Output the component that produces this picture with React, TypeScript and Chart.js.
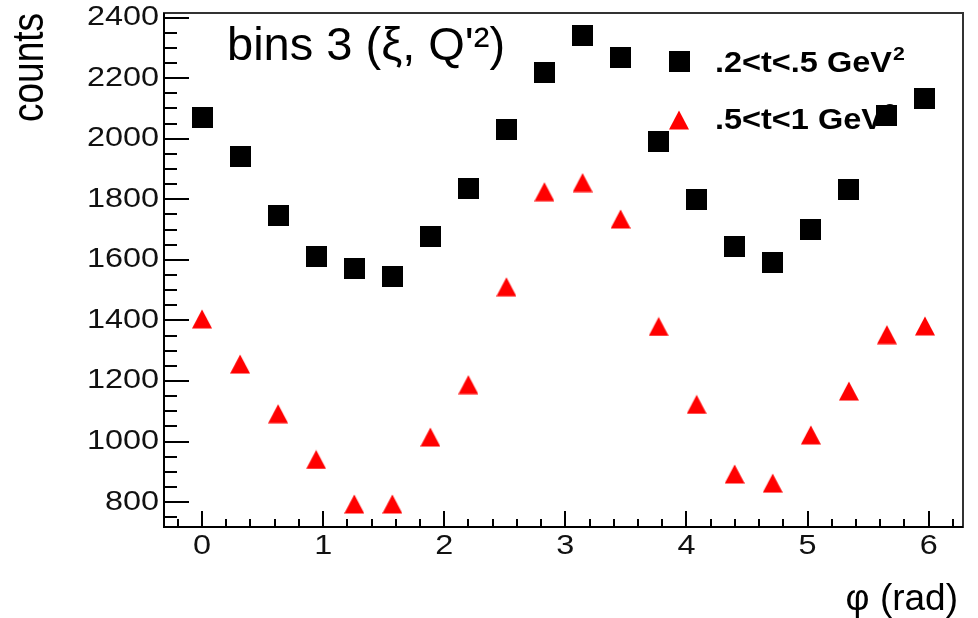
import React, { useEffect, useRef } from "react";
import { Chart, registerables } from "chart.js";

Chart.register(...registerables);

// ---- data ----
const phiValues = [0, 0.314, 0.628, 0.942, 1.257, 1.571, 1.885, 2.199, 2.513, 2.827, 3.142, 3.456, 3.77, 4.084, 4.398, 4.712, 5.027, 5.341, 5.655, 5.969];
const countsLowT = [2071, 1941, 1745, 1612, 1572, 1545, 1676, 1834, 2029, 2220, 2342, 2268, 1990, 1798, 1645, 1592, 1701, 1831, 2076, 2133];
const countsHighT = [1405, 1256, 1092, 941, 794, 794, 1015, 1188, 1511, 1825, 1855, 1735, 1380, 1123, 893, 863, 1022, 1167, 1353, 1382];
const seriesLabels = [".2<t<.5 GeV", ".5<t<1 GeV"];
const seriesLabelSup = "2";
const xTickValues = [0, 1, 2, 3, 4, 5, 6];
const yTickValues = [800, 1000, 1200, 1400, 1600, 1800, 2000, 2200, 2400];
const chartTitle = "bins 3 (\u03BE, Q'\u00B2)";
const xAxisTitle = "\u03C6 (rad)";
const yAxisTitle = "counts";

const X_MIN = -0.3142;
const X_MAX = 6.2832;
const Y_MIN = 718;
const Y_MAX = 2415;
const X_MINOR = 0.2;
const Y_MINOR = 50;

const FONT = "'Liberation Sans', Arial, Helvetica, sans-serif";

function makeSquare(): HTMLCanvasElement {
  const c = document.createElement("canvas");
  c.width = 21;
  c.height = 21;
  const g = c.getContext("2d")!;
  g.fillStyle = "#000000";
  g.fillRect(0, 0, 21, 21);
  return c;
}

function makeTriangle(): HTMLCanvasElement {
  const c = document.createElement("canvas");
  c.width = 20;
  c.height = 20;
  const g = c.getContext("2d")!;
  g.fillStyle = "#ff0000";
  g.beginPath();
  g.moveTo(10, 0.5);
  g.lineTo(20, 19.5);
  g.lineTo(0, 19.5);
  g.closePath();
  g.fill();
  return c;
}

function stretchedText(
  ctx: CanvasRenderingContext2D,
  text: string,
  x: number,
  y: number,
  sx: number,
  align: CanvasTextAlign,
  baseline: CanvasTextBaseline
) {
  ctx.save();
  ctx.translate(x, y);
  ctx.scale(sx, 1);
  ctx.textAlign = align;
  ctx.textBaseline = baseline;
  ctx.fillText(text, 0, 0);
  ctx.restore();
}

export default function App() {
  const canvasRef = useRef<HTMLCanvasElement | null>(null);

  useEffect(() => {
    if (!canvasRef.current) return;
    const square = makeSquare();
    const triangle = makeTriangle();
    const markers = [square, triangle];

    const rootDecor = {
      id: "rootDecor",
      beforeDatasetsDraw(chart: any) {
        const ctx: CanvasRenderingContext2D = chart.ctx;
        const { left, right, top, bottom } = chart.chartArea;
        const xs = chart.scales.x;
        const ys = chart.scales.y;
        ctx.save();
        // frame
        ctx.strokeStyle = "#333333";
        ctx.lineWidth = 2;
        ctx.strokeRect(left, top, right - left, bottom - top);
        ctx.strokeStyle = "#000000";
        ctx.beginPath();
        ctx.moveTo(left, top);
        ctx.lineTo(left, bottom);
        ctx.lineTo(right, bottom);
        ctx.stroke();

        // ticks
        ctx.lineWidth = 2;
        ctx.beginPath();
        for (let v = Math.ceil(X_MIN / X_MINOR) * X_MINOR; v <= X_MAX + 1e-9; v += X_MINOR) {
          const px = Math.round(xs.getPixelForValue(v));
          const major = Math.abs(v - Math.round(v)) < 1e-6;
          ctx.moveTo(px, bottom);
          ctx.lineTo(px, bottom - (major ? 16 : 8));
        }
        for (let v = Math.ceil(Y_MIN / Y_MINOR) * Y_MINOR; v <= Y_MAX + 1e-9; v += Y_MINOR) {
          const py = Math.round(ys.getPixelForValue(v));
          const major = v % 200 === 0;
          ctx.moveTo(left, py);
          ctx.lineTo(left + (major ? 25 : 13), py);
        }
        ctx.stroke();

        // tick labels
        ctx.fillStyle = "#111111";
        ctx.font = `27px ${FONT}`;
        xTickValues.forEach((v) => {
          stretchedText(ctx, String(v), xs.getPixelForValue(v), 546.5, 1.2, "center", "middle");
        });
        yTickValues.forEach((v) => {
          stretchedText(ctx, String(v), left - 5, ys.getPixelForValue(v), 1.2, "right", "middle");
        });

        // axis titles
        ctx.fillStyle = "#000000";
        ctx.font = `37px ${FONT}`;
        ctx.textAlign = "right";
        ctx.textBaseline = "alphabetic";
        ctx.fillText(xAxisTitle, 958, 610);

        ctx.save();
        ctx.translate(43, 13);
        ctx.scale(1.2, 1);
        ctx.rotate(-Math.PI / 2);
        ctx.textAlign = "right";
        ctx.textBaseline = "alphabetic";
        ctx.fillText(yAxisTitle, 0, 0);
        ctx.restore();

        // chart title (inside frame)
        ctx.font = `47px ${FONT}`;
        ctx.textAlign = "left";
        ctx.textBaseline = "alphabetic";
        ctx.fillText(chartTitle, 227, 60);

        // legend
        const rowsBase = [72, 128.5];
        const markerY = [61, 120];
        seriesLabels.forEach((lab, i) => {
          const m = markers[i];
          ctx.drawImage(m, Math.round(679 - m.width / 2), Math.round(markerY[i] - m.height / 2));
          ctx.font = `bold 29px ${FONT}`;
          stretchedText(ctx, lab, 715, rowsBase[i], 1.12, "left", "alphabetic");
          const w = ctx.measureText(lab).width * 1.12;
          ctx.font = `bold 19px ${FONT}`;
          stretchedText(ctx, seriesLabelSup, 715 + w + 1, rowsBase[i] - 12, 1.12, "left", "alphabetic");
        });
        ctx.restore();
      },
    };

    const chart = new Chart(canvasRef.current, {
      type: "scatter",
      data: {
        datasets: [
          {
            label: seriesLabels[0],
            data: phiValues.map((x, i) => ({ x, y: countsLowT[i] })),
            pointStyle: square as any,
            pointRadius: 10,
            showLine: false,
          },
          {
            label: seriesLabels[1],
            data: phiValues.map((x, i) => ({ x, y: countsHighT[i] })),
            pointStyle: triangle as any,
            pointRadius: 10,
            showLine: false,
          },
        ],
      },
      options: {
        animation: false,
        responsive: false,
        events: [],
        layout: { padding: { left: 164, top: 13, right: 15, bottom: 91 } },
        plugins: {
          legend: { display: false },
          title: { display: false },
          tooltip: { enabled: false },
        },
        scales: {
          x: { type: "linear", min: X_MIN, max: X_MAX, display: false },
          y: { type: "linear", min: Y_MIN, max: Y_MAX, display: false },
        },
      },
      plugins: [rootDecor],
    });
    return () => chart.destroy();
  }, []);

  return (
    <div style={{ position: "fixed", left: 0, top: 0, width: 978, height: 618, background: "#ffffff" }}>
      <canvas ref={canvasRef} width={978} height={618} />
    </div>
  );
}
